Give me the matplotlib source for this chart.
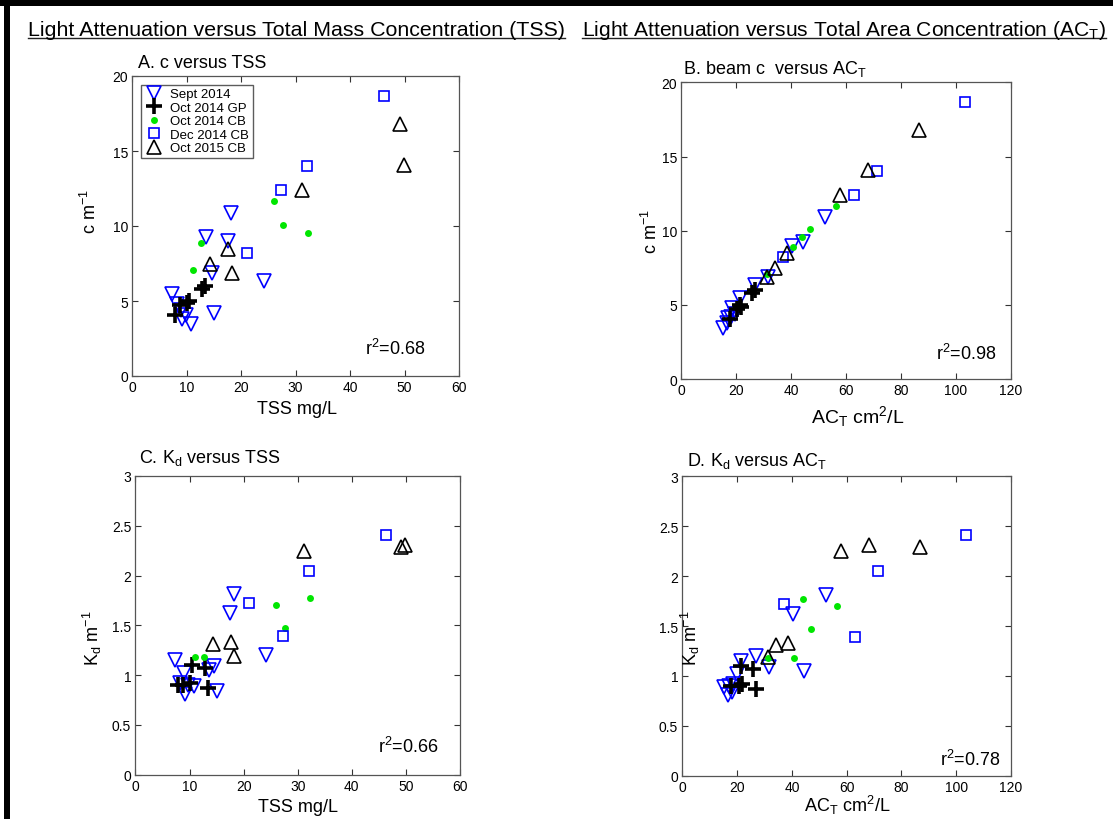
import matplotlib
matplotlib.use('Agg')
import matplotlib.pyplot as plt
from matplotlib.lines import Line2D
from matplotlib.patches import Rectangle
from matplotlib.ticker import FormatStrFormatter

plt.rcParams['font.family'] = ['Liberation Sans', 'DejaVu Sans']
plt.rcParams['mathtext.default'] = 'regular'

# ---------------- data ----------------
series_names = ['Sept 2014', 'Oct 2014 GP', 'Oct 2014 CB', 'Dec 2014 CB', 'Oct 2015 CB']

sept_tss = [18.2, 17.5, 13.6, 14.6, 24.1, 7.35, 8.9, 10.8, 9.1, 15.0, 9.8, 8.2]
sept_c   = [10.9, 9.0, 9.25, 6.9, 6.35, 5.45, 4.4, 3.45, 3.8, 4.2, 4.1, 4.8]
sept_act = [52.5, 40.5, 44.3, 31.6, 26.8, 21.5, 19.8, 15.2, 16.6, 18.0, 17.2, 18.4]
sept_kd  = [1.81, 1.62, 1.05, 1.09, 1.20, 1.15, 1.02, 0.89, 0.81, 0.84, 0.90, 0.92]

gp_tss = [7.9, 8.8, 10.0, 10.4, 12.8, 13.4]
gp_c   = [4.05, 4.75, 4.85, 5.0, 5.8, 6.0]
gp_act = [17.8, 20.5, 21.8, 21.4, 25.8, 26.8]
gp_kd  = [0.90, 0.90, 0.92, 1.10, 1.07, 0.87]

cb14_tss = [26.0, 27.7, 32.3, 12.6, 11.1]
cb14_c   = [11.7, 10.1, 9.55, 8.9, 7.1]
cb14_act = [56.3, 46.8, 43.9, 40.9, 31.4]
cb14_kd  = [1.70, 1.47, 1.77, 1.18, 1.18]

dec_tss = [46.3, 32.0, 27.3, 21.0]
dec_c   = [18.7, 14.0, 12.4, 8.2]
dec_act = [103.5, 71.5, 63.0, 37.0]
dec_kd  = [2.41, 2.05, 1.39, 1.72]

oct15_tss = [49.1, 49.9, 31.1, 17.6, 14.3, 18.3]
oct15_c   = [16.8, 14.1, 12.4, 8.5, 7.5, 6.9]
oct15_act = [86.6, 68.2, 58.0, 38.4, 34.1, 31.2]
oct15_kd  = [2.29, 2.31, 2.25, 1.33, 1.31, 1.19]

r2_values = ['0.68', '0.98', '0.66', '0.78']

tss_ticks = [0, 10, 20, 30, 40, 50, 60]
act_ticks = [0, 20, 40, 60, 80, 100, 120]
c_ticks = [0, 5, 10, 15, 20]
kd_ticks = [0, 0.5, 1, 1.5, 2, 2.5, 3]

# ---------------- figure ----------------
W, H = 1113, 820
fig = plt.figure(figsize=(W / 100, H / 100), dpi=100)


def fx(px):
    return px / W


def fy(py):
    return 1 - py / H


def make_axes(l, t, r, b):
    return fig.add_axes([fx(l), fy(b), fx(r) - fx(l), fy(t) - fy(b)])


styles = [
    dict(marker='v', ms=9.5, mfc='none', mec='#0000ff', mew=1.2, ls='none'),
    dict(marker='+', ms=11, color='black', mew=2.6, ls='none'),
    dict(marker='o', ms=5, mfc='#00e600', mec='none', ls='none'),
    dict(marker='s', ms=7, mfc='none', mec='#0000ff', mew=1.2, ls='none'),
    dict(marker='^', ms=10, mfc='none', mec='black', mew=1.2, ls='none'),
]

axA = make_axes(132.3, 77, 459, 377)
axB = make_axes(681.1, 83.3, 1010.5, 380.2)
axC = make_axes(135.4, 477, 460, 775.7)
axD = make_axes(682.4, 477.3, 1011, 776.8)

panels = [
    (axA, [sept_tss, gp_tss, cb14_tss, dec_tss, oct15_tss],
     [sept_c, gp_c, cb14_c, dec_c, oct15_c], tss_ticks, c_ticks),
    (axB, [sept_act, gp_act, cb14_act, dec_act, oct15_act],
     [sept_c, gp_c, cb14_c, dec_c, oct15_c], act_ticks, c_ticks),
    (axC, [sept_tss, gp_tss, cb14_tss, dec_tss, oct15_tss],
     [sept_kd, gp_kd, cb14_kd, dec_kd, oct15_kd], tss_ticks, kd_ticks),
    (axD, [sept_act, gp_act, cb14_act, dec_act, oct15_act],
     [sept_kd, gp_kd, cb14_kd, dec_kd, oct15_kd], act_ticks, kd_ticks),
]

for ax, xs, ys, xt, yt in panels:
    for x, y, st, name in zip(xs, ys, styles, series_names):
        ax.plot(x, y, label=name, **st)
    ax.set_xlim(xt[0], xt[-1])
    ax.set_ylim(yt[0], yt[-1])
    ax.set_xticks(xt)
    ax.set_yticks(yt)
    ax.yaxis.set_major_formatter(FormatStrFormatter('%g'))
    ax.tick_params(direction='in', top=True, right=True, length=4, width=0.8,
                   labelsize=10, pad=3, color='#333333')
    for sp in ax.spines.values():
        sp.set_color('#555555')
        sp.set_linewidth(0.9)

leg = axA.legend(loc='upper left', bbox_to_anchor=(0.026, 0.971), borderaxespad=0,
                 fontsize=9.5, labelspacing=0.1, handlelength=1.5, handletextpad=0.5,
                 borderpad=0.25, frameon=True, fancybox=False, numpoints=1)
leg.get_frame().set_edgecolor('#333333')
leg.get_frame().set_linewidth(1.0)


def ftext(x, y, s, **kw):
    return fig.text(fx(x), fy(y), s, **kw)


# panel titles
ftext(138.3, 68.5, 'A. c versus TSS', fontsize=13, ha='left', va='baseline')
ftext(683, 74, r'B. beam c  versus AC$_T$', fontsize=13, ha='left', va='baseline')
ftext(139, 463, r'C. K$_d$ versus TSS', fontsize=13, ha='left', va='baseline')
ftext(686.7, 466, r'D. K$_d$ versus AC$_T$', fontsize=13, ha='left', va='baseline')

# axis labels
ftext(296.7, 414, 'TSS mg/L', fontsize=13, ha='center', va='baseline')
ftext(858, 423, r'AC$_T$ cm$^2$/L', fontsize=14, ha='center', va='baseline')
ftext(297.5, 812, 'TSS mg/L', fontsize=13, ha='center', va='baseline')
ftext(847, 812, r'AC$_T$ cm$^2$/L', fontsize=13, ha='center', va='baseline')

ftext(90, 212, r'c m$^{-1}$', fontsize=13, ha='center', va='center', rotation=90)
ftext(651, 232, r'c m$^{-1}$', fontsize=13, ha='center', va='center', rotation=90)
ftext(92, 638, r'K$_d$ m$^{-1}$', fontsize=13, ha='center', va='center', rotation=90)
ftext(690, 638, r'K$_d$ m$^{-1}$', fontsize=13, ha='center', va='center', rotation=90)

# r^2 annotations
for (xr, yb), r2 in zip([(425, 355), (996, 360), (438, 753), (1000.7, 766.5)], r2_values):
    ftext(xr, yb, 'r$^2$=' + r2, fontsize=13, ha='right', va='baseline')

# main headings (underlined)
t1 = ftext(28, 35.5, 'Light Attenuation versus Total Mass Concentration (TSS)',
           fontsize=15.4, ha='left', va='baseline')
t2 = ftext(582, 35.5, r'Light Attenuation versus Total Area Concentration (AC$_T$)',
           fontsize=15.1, ha='left', va='baseline')
fig.canvas.draw()
for t in (t1, t2):
    bb = t.get_window_extent()
    fig.add_artist(Line2D([fx(bb.x0), fx(min(bb.x1, W))], [fy(38.5), fy(38.5)],
                          transform=fig.transFigure, color='#222222', lw=1.0))

# black frame bands (top and left)
fig.add_artist(Rectangle((0, fy(7)), 1, 7 / H, transform=fig.transFigure,
                         color='black', lw=0))
fig.add_artist(Rectangle((fx(4), 0), 6 / W, 1, transform=fig.transFigure,
                         color='black', lw=0))

fig.savefig('out.png', dpi=100)
